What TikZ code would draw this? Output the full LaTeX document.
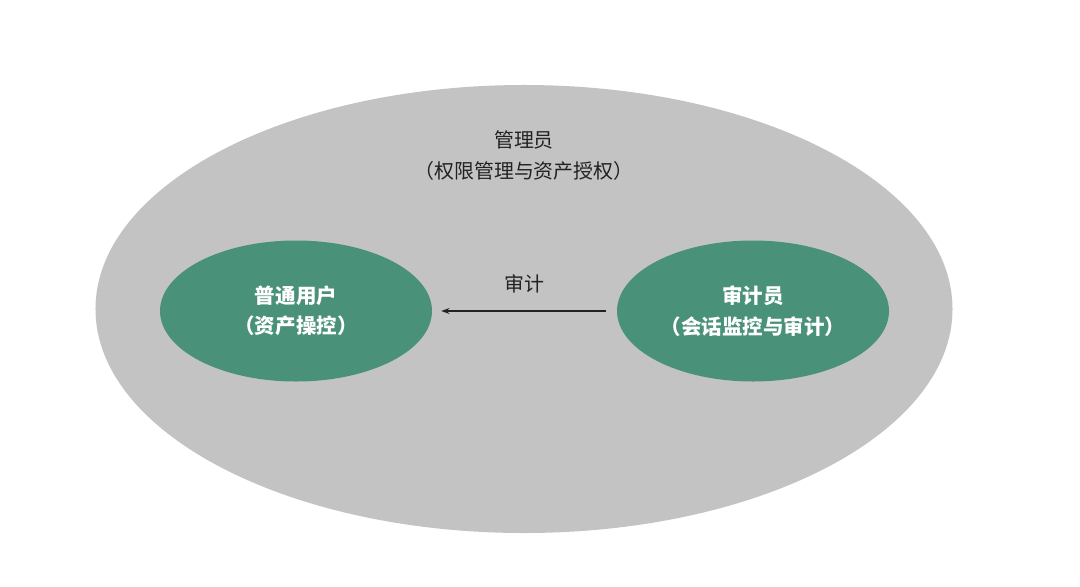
\documentclass[tikz,border=0pt]{standalone}
\usepackage{fontspec}
\newfontfamily\cjk{Noto Sans CJK SC}
\usetikzlibrary{shapes.geometric, arrows.meta}
\definecolor{roleGray}{HTML}{C3C3C3}
\definecolor{roleGreen}{HTML}{4A917A}
\definecolor{textDark}{HTML}{222222}
\begin{document}
\begin{tikzpicture}[x=0.03cm, y=-0.03cm,
    role/.style={ellipse, inner sep=0pt, minimum width=8.16cm, minimum height=4.23cm,
        fill=roleGreen, text=white, align=center, font=\cjk\bfseries\fontsize{17.5}{26}\selectfont},
    label/.style={text=textDark, align=center, font=\cjk\fontsize{17}{26.5}\selectfont}]
    \useasboundingbox (0,0) rectangle (1080,587);
    % Admin
    \node[ellipse, inner sep=0pt, minimum width=25.71cm, minimum height=13.44cm, fill=roleGray] (admin) at (524,309) {};
    \node[label] (adminText) at (524,156) {管理员\\（权限管理与资产授权）};
    % Users
    \node[role] (user) at (296,311) {普通用户\\（资产操控）};
    \node[role] (auditor) at (753,311) {审计员\\（会话监控与审计）};
    % Audit
    \draw[-{Stealth[length=7pt, width=5pt]}, line width=1pt, textDark, shorten <=0.33cm, shorten >=0.27cm]
        (auditor.west) -- (user.east) node[midway, above=0.4cm, label] (auditText) {审计};
\end{tikzpicture}
\end{document}
